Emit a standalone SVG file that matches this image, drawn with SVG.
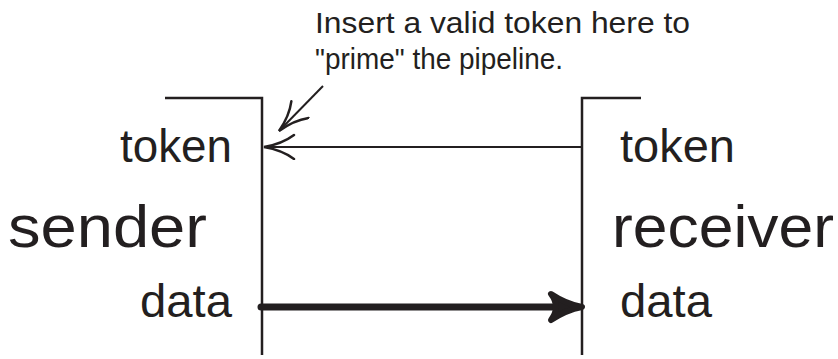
<svg xmlns="http://www.w3.org/2000/svg" width="838" height="359" viewBox="0 0 838 359">
<style>
text{font-family:"Liberation Sans",Arial,sans-serif;fill:#231f20}
.lbl{font-size:46px}
.big{font-size:60px}
.note{font-size:30px}
.box{fill:none;stroke:#231f20;stroke-width:2.5}
</style>
<defs>
<marker id="open" markerWidth="36" markerHeight="28" refX="32" refY="13" orient="auto" markerUnits="userSpaceOnUse">
<path d="M2,1 Q14,10 32,13 Q14,16 2,25" fill="none" stroke="#231f20" stroke-width="2.5" stroke-linecap="round"/>
</marker>
<marker id="solid" markerWidth="44" markerHeight="40" refX="38" refY="20" orient="auto" markerUnits="userSpaceOnUse">
<path d="M7,7 Q22,17 38,20 Q22,23 7,33 Q17,20 7,7Z" fill="#231f20" stroke="#231f20" stroke-width="6" stroke-linejoin="round"/>
</marker>
</defs>
<g id="sender">
<path class="box" d="M165,98 H262 V355"/>
<text class="lbl" x="120" y="162" textLength="112" lengthAdjust="spacingAndGlyphs">token</text>
<text class="big" x="8" y="247" textLength="199" lengthAdjust="spacingAndGlyphs">sender</text>
<text class="lbl" x="140" y="317" textLength="92" lengthAdjust="spacingAndGlyphs">data</text>
</g>
<g id="receiver">
<path class="box" d="M641,98 H582 V355"/>
<text class="lbl" x="620" y="162" textLength="115" lengthAdjust="spacingAndGlyphs">token</text>
<text class="big" x="612" y="247" textLength="222" lengthAdjust="spacingAndGlyphs">receiver</text>
<text class="lbl" x="620" y="317" textLength="92" lengthAdjust="spacingAndGlyphs">data</text>
</g>
<g id="note">
<text class="note" x="315" y="33" textLength="375" lengthAdjust="spacingAndGlyphs">Insert a valid token here to</text>
<text class="note" x="315" y="69" textLength="248" lengthAdjust="spacingAndGlyphs">"prime" the pipeline.</text>
</g>
<g id="connectors">
<line x1="582" y1="147" x2="264" y2="147" stroke="#231f20" stroke-width="2" marker-end="url(#open)"/>
<line x1="323" y1="86" x2="279" y2="131" stroke="#231f20" stroke-width="2" marker-end="url(#open)"/>
<line x1="261" y1="307" x2="560" y2="307" stroke="#231f20" stroke-width="7" stroke-linecap="round"/>
<line x1="540" y1="307" x2="582" y2="307" stroke="none" marker-end="url(#solid)"/>
</g>
</svg>
